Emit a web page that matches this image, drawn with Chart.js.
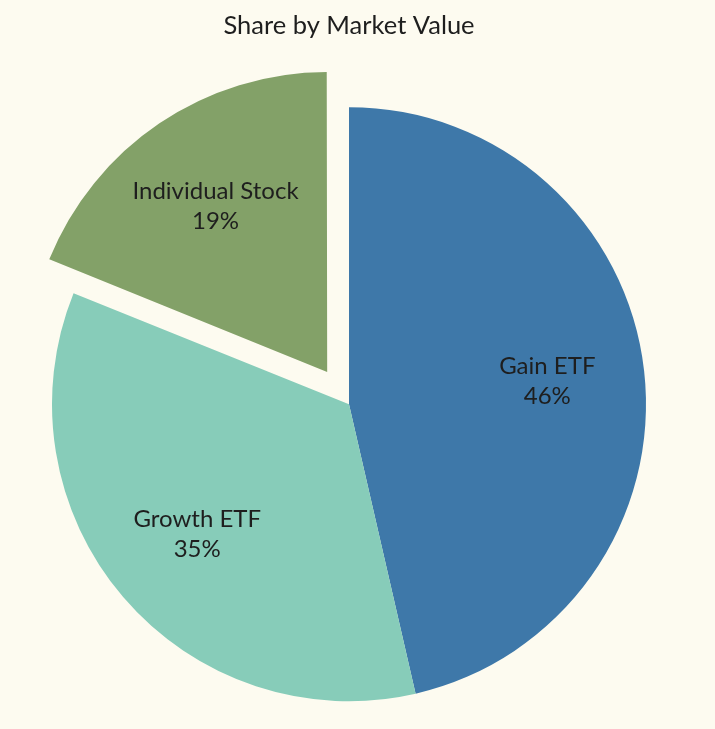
<!DOCTYPE html>
<html>
<head>
<meta charset="utf-8">
<script src="https://cdn.jsdelivr.net/npm/chart.js@4/dist/chart.umd.min.js"></script>
<style>
  html, body { margin: 0; padding: 0; background: #fdfbf0; }
  #wrap { width: 715px; height: 729px; }
</style>
</head>
<body>
<div id="wrap"><canvas id="c" width="715" height="729"></canvas></div>
<script>
const categories = ["Gain ETF", "Growth ETF", "Individual Stock"];
const shares = [46.4, 34.7, 18.9];
const sliceColors = ["#3e78a9", "#87ccb9", "#83a168"];
const sliceOffsets = [0, 0, 156]; // Chart.js draws arcs shifted by offset/4

const FONT = "Lato, 'Open Sans', sans-serif";

const labelPlugin = {
  id: 'sliceLabels',
  afterDatasetsDraw(chart) {
    const ctx = chart.ctx;
    const meta = chart.getDatasetMeta(0);
    const total = shares.reduce((a, b) => a + b, 0);
    ctx.save();
    ctx.fillStyle = '#1e1e1e';
    ctx.font = '24px ' + FONT;
    ctx.textAlign = 'center';
    ctx.textBaseline = 'middle';
    meta.data.forEach((arc, i) => {
      const p = arc.getProps(['x', 'y', 'startAngle', 'endAngle', 'outerRadius']);
      const mid = (p.startAngle + p.endAngle) / 2;
      const r = p.outerRadius * 0.672 + sliceOffsets[i] / 4;
      const cx = p.x + Math.cos(mid) * r;
      const cy = p.y + Math.sin(mid) * r;
      const pct = Math.round(shares[i] / total * 100) + '%';
      ctx.fillText(categories[i], cx, cy - 15);
      ctx.fillText(pct, cx, cy + 15);
    });
    ctx.restore();
  }
};

new Chart(document.getElementById('c'), {
  type: 'pie',
  data: {
    labels: categories,
    datasets: [{
      data: shares,
      backgroundColor: sliceColors,
      borderWidth: 0,
      offset: sliceOffsets
    }]
  },
  options: {
    responsive: false,
    animation: false,
    radius: 297,
    layout: { padding: { left: 0, right: 17, top: 0, bottom: 0 } },
    plugins: {
      legend: { display: false },
      tooltip: { enabled: false },
      title: {
        display: true,
        text: 'Share by Market Value',
        color: '#1e1e1e',
        font: { family: FONT, size: 25.5, weight: 'normal' },
        padding: { top: 10, bottom: 38.8 }
      }
    }
  },
  plugins: [labelPlugin, {
    id: 'bg',
    beforeDraw(chart) {
      const ctx = chart.ctx;
      ctx.save();
      ctx.fillStyle = '#fdfbf0';
      ctx.fillRect(0, 0, chart.width, chart.height);
      ctx.restore();
    }
  }]
});
</script>
</body>
</html>
